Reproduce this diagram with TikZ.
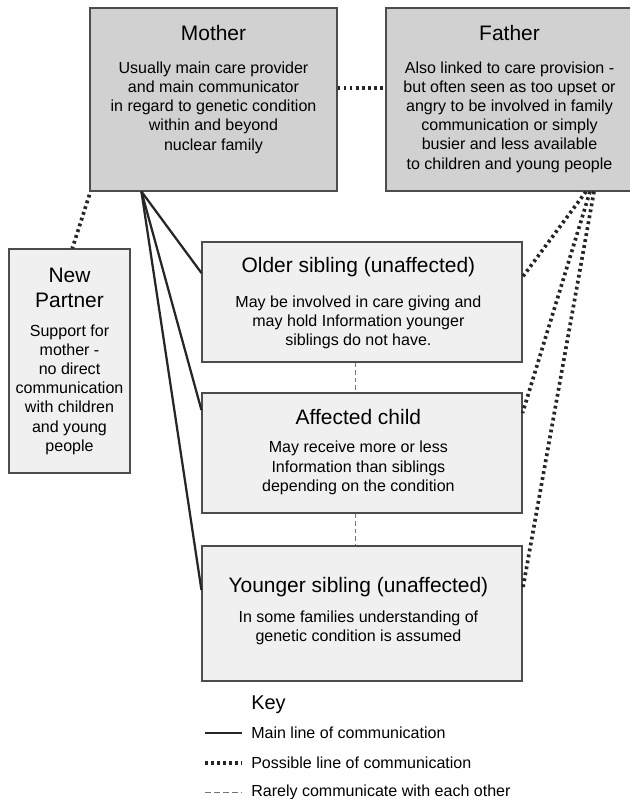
\documentclass[tikz,border=0pt]{standalone}
\usepackage{fontspec}
\setmainfont{Liberation Sans}

\begin{document}
\begin{tikzpicture}
			\tikzstyle{Parent}	= [rectangle, draw=black!70, line width=0.8pt, fill=black!18, minimum width=6.175cm, minimum height=4.575cm, inner sep=0pt]
			\tikzstyle{Child}	= [rectangle, draw=black!70, line width=0.8pt, fill=black!6, minimum width=8cm, inner sep=0pt]
			\tikzstyle{Title}	= [align=center, font=\fontsize{14.9}{17.7}\selectfont]
			\tikzstyle{Body}	= [align=center, font=\fontsize{11.4}{13.65}\selectfont]
			\tikzstyle{KeyText}	= [anchor=west, inner sep=0pt, font=\fontsize{11.4}{13.65}\selectfont]
			\tikzstyle{MC}		= [line width=1.6pt, black!85]
			\tikzstyle{PC}		= [line width=2.6pt, black!85, dash pattern=on 2pt off 2.3pt]
			\tikzstyle{RC}		= [line width=0.6pt, black!55, dash pattern=on 3.2pt off 2.2pt]
			
			\useasboundingbox (0, 0) rectangle (15.725, 19.975);
			
			% parents
			\node (mother) at (5.3375, 17.4875) [Parent] {};
			\node (motherT) at (5.3375, 19.15) [Title] {Mother};
			\node (motherB) at (5.3375, 17.2875) [Body] {Usually main care provider\\and main communicator\\in regard to genetic condition\\within and beyond\\nuclear family};
			
			\node (father) at (12.7375, 17.4875) [Parent] {};
			\node (fatherT) at (12.7375, 19.15) [Title] {Father};
			\node (fatherB) at (12.7375, 17.05) [Body] {Also linked to care provision -\\but often seen as too upset or\\angry to be involved in family\\communication or simply\\busier and less available\\to children and young people};
			
			\node (partner) at (1.7375, 10.95) [Child, minimum width=3.025cm, minimum height=5.6cm] {};
			\node (partnerT) at (1.7375, 12.7875) [Title] {New\\Partner};
			\node (partnerB) at (1.7375, 10.2375) [Body] {Support for\\mother -\\no direct\\communication\\with children\\and young\\people};
			
			% children
			\node (older) at (9.05, 12.425) [Child, minimum height=3cm] {};
			\node (olderT) at (8.96, 13.3) [Title] {Older sibling (unaffected)};
			\node (olderB) at (8.96, 11.9125) [Body] {May be involved in care giving and\\may hold Information younger\\siblings do not have.};
			
			\node (affected) at (9.05, 8.65) [Child, minimum height=3cm] {};
			\node (affectedT) at (8.96, 9.55) [Title] {Affected child};
			\node (affectedB) at (8.96, 8.275) [Body] {May receive more or less\\Information than siblings\\depending on the condition};
			
			\node (younger) at (9.05, 4.6375) [Child, minimum height=3.375cm] {};
			\node (youngerT) at (8.96, 5.3) [Title] {Younger sibling (unaffected)};
			\node (youngerB) at (8.96, 4.2875) [Body] {In some families understanding of\\genetic condition is assumed};
			
			\draw [-] ([xshift=1.3cm]mother.south west) to ([yshift=0.725cm]older.west) [MC];
			\draw [-] ([xshift=1.3cm]mother.south west) to ([yshift=1.075cm]affected.west) [MC];
			\draw [-] ([xshift=1.3cm]mother.south west) to ([yshift=0.5875cm]younger.west) [MC];
			
			\draw [-] ([yshift=0.29cm]mother.east) to ([yshift=0.29cm]father.west) [PC];
			\draw [-] ([yshift=-0.08cm]mother.south west) to ([xshift=0.07cm]partner.north) [PC];
			\draw [-] ([xshift=1.9125cm]father.south) to ([yshift=0.625cm]older.east) [PC];
			\draw [-] ([xshift=2.0125cm]father.south) to ([yshift=1cm]affected.east) [PC];
			\draw [-] ([xshift=2.1125cm]father.south) to ([yshift=0.5875cm]younger.east) [PC];
			
			\draw [-] ([xshift=-0.175cm]older.south) to ([xshift=-0.175cm]affected.north) [RC];
			\draw [-] ([xshift=-0.175cm]affected.south) to ([xshift=-0.175cm]younger.north) [RC];
			
			% key
			\node (key) at (6.275, 2.35) [KeyText, font=\fontsize{14.2}{17}\selectfont] {Key};
			\node (keyMC) at (6.275, 1.65) [KeyText] {Main line of communication};
			\node (keyPC) at (6.275, 0.9) [KeyText] {Possible line of communication};
			\node (keyRC) at (6.275, 0.175) [KeyText] {Rarely communicate with each other};
			\coordinate (k1) at (5.125, 1.65);
			\coordinate (k2) at (5.125, 0.9);
			\coordinate (k3) at (5.125, 0.175);
			\draw [-] (k1) to ([xshift=-0.225cm]keyMC.west) [MC];
			\draw [-] (k2) to ([xshift=-0.225cm]keyPC.west) [PC];
			\draw [-] (k3) to ([xshift=-0.225cm]keyRC.west) [RC, dash pattern=on 4pt off 2.4pt];
		\end{tikzpicture}
\end{document}
